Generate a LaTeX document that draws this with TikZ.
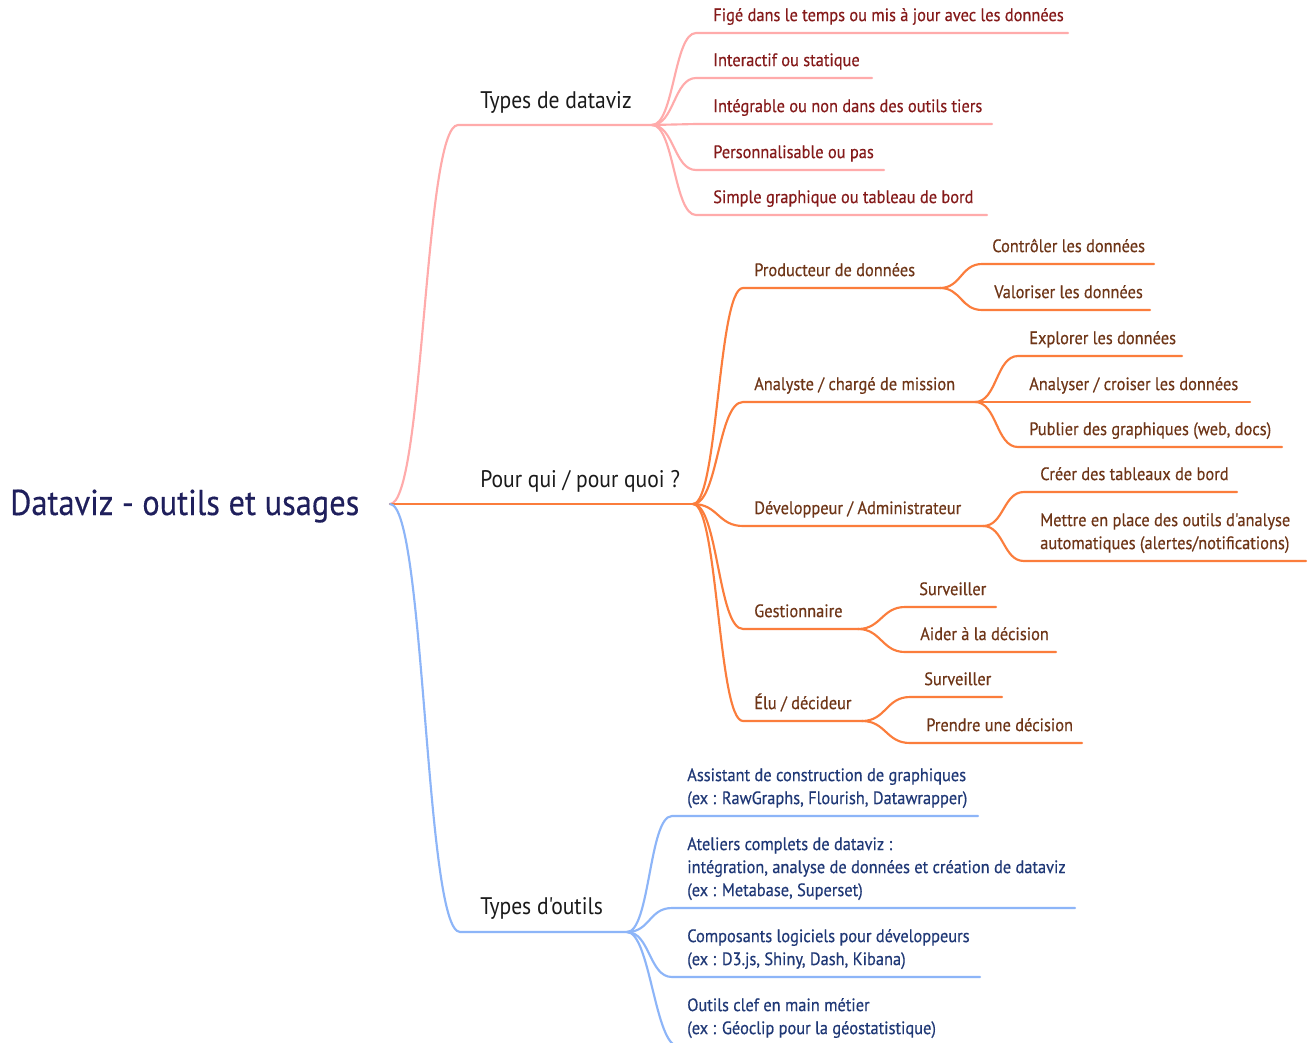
\documentclass[tikz,border=0pt]{standalone}
\usepackage{fontspec}
\setmainfont{PT Sans}[FakeStretch=0.9]
\newfontfamily\lvlfam{PT Sans}[FakeStretch=0.9]
\newfontfamily\leaffam{PT Sans}[FakeStretch=0.91, FakeBold=0.4]
\newfontfamily\titlefam{PT Sans}[FakeStretch=0.9, FakeBold=0.3]
\definecolor{pkline}{HTML}{FFABAB}
\definecolor{pktext}{HTML}{851A1A}
\definecolor{orline}{HTML}{FB7D3C}
\definecolor{ortext}{HTML}{6E3517}
\definecolor{blline}{HTML}{8DB5F8}
\definecolor{bltext}{HTML}{1F3876}
\definecolor{titlec}{HTML}{1F1F5C}
\definecolor{lvltext}{HTML}{1A1A1A}
\newcommand\lstrut{\rule[-3.5pt]{0pt}{1pt}}
\newcommand\apos{\char"27\relax}
\newcommand\leaffont{\leaffam\fontsize{13.5}{17.25}\selectfont}
\tikzset{
  pk/.style={draw=pkline, line width=1.6pt, line cap=round},
  og/.style={draw=orline, line width=1.6pt, line cap=round},
  bl/.style={draw=blline, line width=1.6pt, line cap=round},
  leaf/.style={anchor=south west, inner sep=0pt, align=left, font=\leaffont, execute at end node={\lstrut}},
  pkleaf/.style={leaf, text=pktext},
  orleaf/.style={leaf, text=ortext},
  blleaf/.style={leaf, text=bltext},
  lvl/.style={anchor=base west, inner sep=0pt, font=\lvlfam\fontsize{18}{22}\selectfont, text=lvltext},
  ttl/.style={anchor=base west, inner sep=0pt, font=\titlefam\fontsize{27}{32}\selectfont, text=titlec}
}
\begin{document}
\begin{tikzpicture}[x=0.75pt,y=-0.75pt]
\useasboundingbox (0,0) rectangle (1308,1042);
\clip (0,0) rectangle (1308,1042);
\fill[white] (0,0) rectangle (1308,1042);

% ---------- root ----------
\node[ttl] (title) at (10,515) {Dataviz - outils et usages};
\coordinate (root) at (390,504);

% ---------- pink branch ----------
\coordinate (p0) at (458,125);
\coordinate (pj) at (652,125);
\coordinate (p1) at (696,33);  \coordinate (p1e) at (1068,33);
\coordinate (p2) at (696,78);  \coordinate (p2e) at (872,78);
\coordinate (p3) at (696,124); \coordinate (p3e) at (992,124);
\coordinate (p4) at (696,170); \coordinate (p4e) at (884,170);
\coordinate (p5) at (696,215); \coordinate (p5e) at (987,215);
\draw[pk] (root) .. controls +(34,0) and +(-34,0) .. (p0) -- (pj);
\foreach \c in {p1,p2,p3,p4,p5}{
  \draw[pk] (pj) .. controls +(22,0) and +(-22,0) .. (\c) -- (\c e);
}
\node[lvl] (tA) at (480,108) {Types de dataviz};
\node[pkleaf] (tA1) at (713,26)  {Figé dans le temps ou mis à jour avec les données};
\node[pkleaf] (tA2) at (713,71)  {Interactif ou statique};
\node[pkleaf] (tA3) at (713,117) {Intégrable ou non dans des outils tiers};
\node[pkleaf] (tA4) at (713,163) {Personnalisable ou pas};
\node[pkleaf] (tA5) at (713,208) {Simple graphique ou tableau de bord};

% ---------- orange branch ----------
\coordinate (oj) at (693,504);
\draw[og] (root) -- (oj);
\coordinate (o1) at (743,288); \coordinate (o1e) at (940,288);
\coordinate (o2) at (743,402); \coordinate (o2e) at (975,402);
\coordinate (o3) at (743,526); \coordinate (o3e) at (983,526);
\coordinate (o4) at (743,629); \coordinate (o4e) at (858,629);
\coordinate (o5) at (743,721); \coordinate (o5e) at (862,721);
\foreach \c in {o1,o2,o3,o4,o5}{
  \draw[og] (oj) .. controls +(25,0) and +(-25,0) .. (\c) -- (\c e);
}
\node[lvl] (tB) at (480,487) {Pour qui / pour quoi ?};
\node[orleaf] (tB1) at (754,281) {Producteur de données};
\node[orleaf] (tB2) at (754,395) {Analyste / chargé de mission};
\node[orleaf] (tB3) at (754,519) {Développeur / Administrateur};
\node[orleaf] (tB4) at (754,622) {Gestionnaire};
\node[orleaf] (tB5) at (754,714) {Élu / décideur};

% producteur
\coordinate (o11) at (982,264); \coordinate (o11e) at (1154,264);
\coordinate (o12) at (982,310); \coordinate (o12e) at (1150,310);
\foreach \c in {o11,o12}{
  \draw[og] (o1e) .. controls +(21,0) and +(-21,0) .. (\c) -- (\c e);
}
\node[orleaf] (tB11) at (992,257) {Contrôler les données};
\node[orleaf] (tB12) at (994,303) {Valoriser les données};

% analyste
\coordinate (o21) at (1018,356); \coordinate (o21e) at (1182,356);
\coordinate (o22) at (1018,402); \coordinate (o22e) at (1250,402);
\coordinate (o23) at (1018,447); \coordinate (o23e) at (1282,447);
\foreach \c in {o21,o22,o23}{
  \draw[og] (o2e) .. controls +(22,0) and +(-22,0) .. (\c) -- (\c e);
}
\node[orleaf] (tB21) at (1029,349) {Explorer les données};
\node[orleaf] (tB22) at (1029,395) {Analyser / croiser les données};
\node[orleaf] (tB23) at (1029,440) {Publier des graphiques (web, docs)};

% developpeur
\coordinate (o31) at (1024,492); \coordinate (o31e) at (1237,492);
\coordinate (o32) at (1024,561); \coordinate (o32e) at (1306,561);
\foreach \c in {o31,o32}{
  \draw[og] (o3e) .. controls +(21,0) and +(-21,0) .. (\c) -- (\c e);
}
\node[orleaf] (tB31) at (1040,485) {Créer des tableaux de bord};
\node[orleaf] (tB32) at (1040,554) {Mettre en place des outils d\apos analyse\\automatiques (alertes/notifications)};

% gestionnaire
\coordinate (o41) at (905,607); \coordinate (o41e) at (996,607);
\coordinate (o42) at (905,652); \coordinate (o42e) at (1056,652);
\foreach \c in {o41,o42}{
  \draw[og] (o4e) .. controls +(23,0) and +(-23,0) .. (\c) -- (\c e);
}
\node[orleaf] (tB41) at (919,600) {Surveiller};
\node[orleaf] (tB42) at (920,645) {Aider à la décision};

% elu
\coordinate (o51) at (910,697); \coordinate (o51e) at (1002,697);
\coordinate (o52) at (910,743); \coordinate (o52e) at (1082,743);
\foreach \c in {o51,o52}{
  \draw[og] (o5e) .. controls +(24,0) and +(-24,0) .. (\c) -- (\c e);
}
\node[orleaf] (tB51) at (924,690) {Surveiller};
\node[orleaf] (tB52) at (926,736) {Prendre une décision};

% ---------- blue branch ----------
\coordinate (b0) at (460,932);
\coordinate (bj) at (627,932);
\draw[bl] (root) .. controls +(35,0) and +(-35,0) .. (b0) -- (bj);
\coordinate (b1) at (672,816);  \coordinate (b1e) at (978,816);
\coordinate (b2) at (672,908);  \coordinate (b2e) at (1075,908);
\coordinate (b3) at (672,977);  \coordinate (b3e) at (980,977);
\coordinate (b4) at (678,1046); \coordinate (b4e) at (960,1046);
\foreach \c in {b1,b2,b3,b4}{
  \draw[bl] (bj) .. controls +(23,0) and +(-23,0) .. (\c) -- (\c e);
}
\node[lvl] (tC) at (480,914) {Types d\apos outils};
\node[blleaf] (tC1) at (687,809) {Assistant de construction de graphiques\\(ex : RawGraphs, Flourish, Datawrapper)};
\node[blleaf] (tC2) at (687,901) {Ateliers complets de dataviz :\\intégration, analyse de données et création de dataviz\\(ex : Metabase, Superset)};
\node[blleaf] (tC3) at (687,970) {Composants logiciels pour développeurs\\(ex : D3.js, Shiny, Dash, Kibana)};
\node[blleaf] (tC4) at (687,1039) {Outils clef en main métier\\(ex : Géoclip pour la géostatistique)};
\end{tikzpicture}
\end{document}
